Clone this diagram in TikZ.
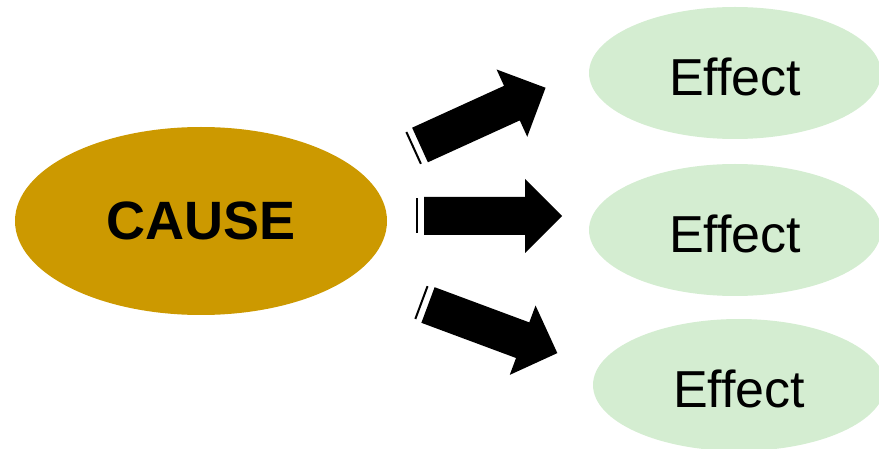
\documentclass[tikz,border=0pt]{standalone}
\usepackage{fontspec}
\setmainfont[Ligatures=NoCommon]{Liberation Sans}
\usetikzlibrary{shapes.geometric}
\definecolor{causeGold}{HTML}{CC9900}
\definecolor{effectGreen}{HTML}{D4EDD1}

\begin{document}
\begin{tikzpicture}
[x=1pt,y=-1pt,
  causeDecorate/.style={shape=ellipse,fill=causeGold,inner sep=0pt,minimum width=372pt,minimum height=188pt,font=\fontsize{54}{54}\selectfont\bfseries},%
  effectDecorate/.style={shape=ellipse,fill=effectGreen,inner sep=0pt,minimum width=292pt,minimum height=132pt,text height=45pt,text depth=0pt,font=\fontsize{52}{52}\selectfont},%
  arrowDecorate/.style={fill=black},%
  stripeDecorate/.style={draw=black,line width=2pt}]
\useasboundingbox (0,0) rectangle (879,449);
%% cause
\node (cause) at (201,221) [causeDecorate] {CAUSE};
%% effects
\foreach \nodename/\x/\y in {effA/735/73, effB/735/230, effC/739/385} {
  \node (\nodename) at (\x,\y) [effectDecorate] {Effect};
}
%% block arrows
\foreach \x/\y/\ang in {420/145/24.5, 424/216/0, 428/305/-20.4} {
  \begin{scope}[shift={(\x,\y)},rotate=\ang]
    \fill[arrowDecorate] (0,-19) -- (101,-19) -- (101,-37) -- (138,0) -- (101,37) -- (101,19) -- (0,19) -- cycle;
    \draw[stripeDecorate] (-7,-17.5) -- (-7,17.5);
  \end{scope}
}
\end{tikzpicture}
\end{document}
